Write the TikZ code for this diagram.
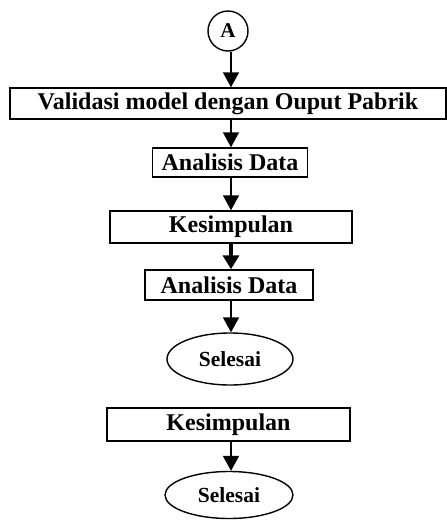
\documentclass[tikz,border=0pt]{standalone}
\usepackage{fontspec}
\setmainfont{Liberation Serif}
\usetikzlibrary{arrows.meta,shapes.geometric}
\begin{document}
\begin{tikzpicture}[x=1pt,y=-1pt,
  box/.style={draw,line width=1.5pt,rectangle,inner sep=0pt,font=\bfseries\fontsize{24}{28}\selectfont},
  oval/.style={draw,line width=1.4pt,ellipse,inner sep=0pt,font=\bfseries\fontsize{21.5}{25}\selectfont},
  conn/.style={draw,line width=1.8pt,-{Triangle[width=16pt,length=15pt]}},
  thickconn/.style={draw,line width=3.5pt,-{Triangle[width=16pt,length=14pt]}}]
\useasboundingbox (0,0) rectangle (447,520);
\node[draw,circle,line width=1.4pt,minimum size=40pt,inner sep=0pt,font=\bfseries\fontsize{21}{25}\selectfont] (A) at (228,31) {A};
\coordinate (ax) at (231,51);
\node[box,minimum width=436pt,minimum height=31pt] (val) at (228,103.5) {Validasi model dengan Ouput Pabrik};
\node[box,minimum width=155pt,minimum height=29pt] (an1) at (230,162.5) {Analisis Data};
\node[box,minimum width=242pt,minimum height=32pt] (kes1) at (231,227) {Kesimpulan};
\node[box,minimum width=168pt,minimum height=30pt] (an2) at (229,285) {Analisis Data};
\node[oval,minimum width=126pt,minimum height=52pt] (sel1) at (230,359) {Selesai};
\node[box,minimum width=243pt,minimum height=33pt] (kes2) at (228.5,424.5) {Kesimpulan};
\node[oval,minimum width=128pt,minimum height=47pt] (sel2) at (229,495) {Selesai};
\draw[conn] (A.south -| ax) -- (val.north -| ax);
\draw[conn] (val.south -| ax) -- (an1.north -| ax);
\draw[conn] (an1.south -| ax) -- (kes1.north -| ax);
\draw[thickconn] (kes1.south -| ax) -- (an2.north -| ax);
\draw[conn] (an2.south -| ax) -- (sel1.north -| ax);
\draw[conn] (kes2.south -| ax) -- (sel2.north -| ax);
\end{tikzpicture}
\end{document}
